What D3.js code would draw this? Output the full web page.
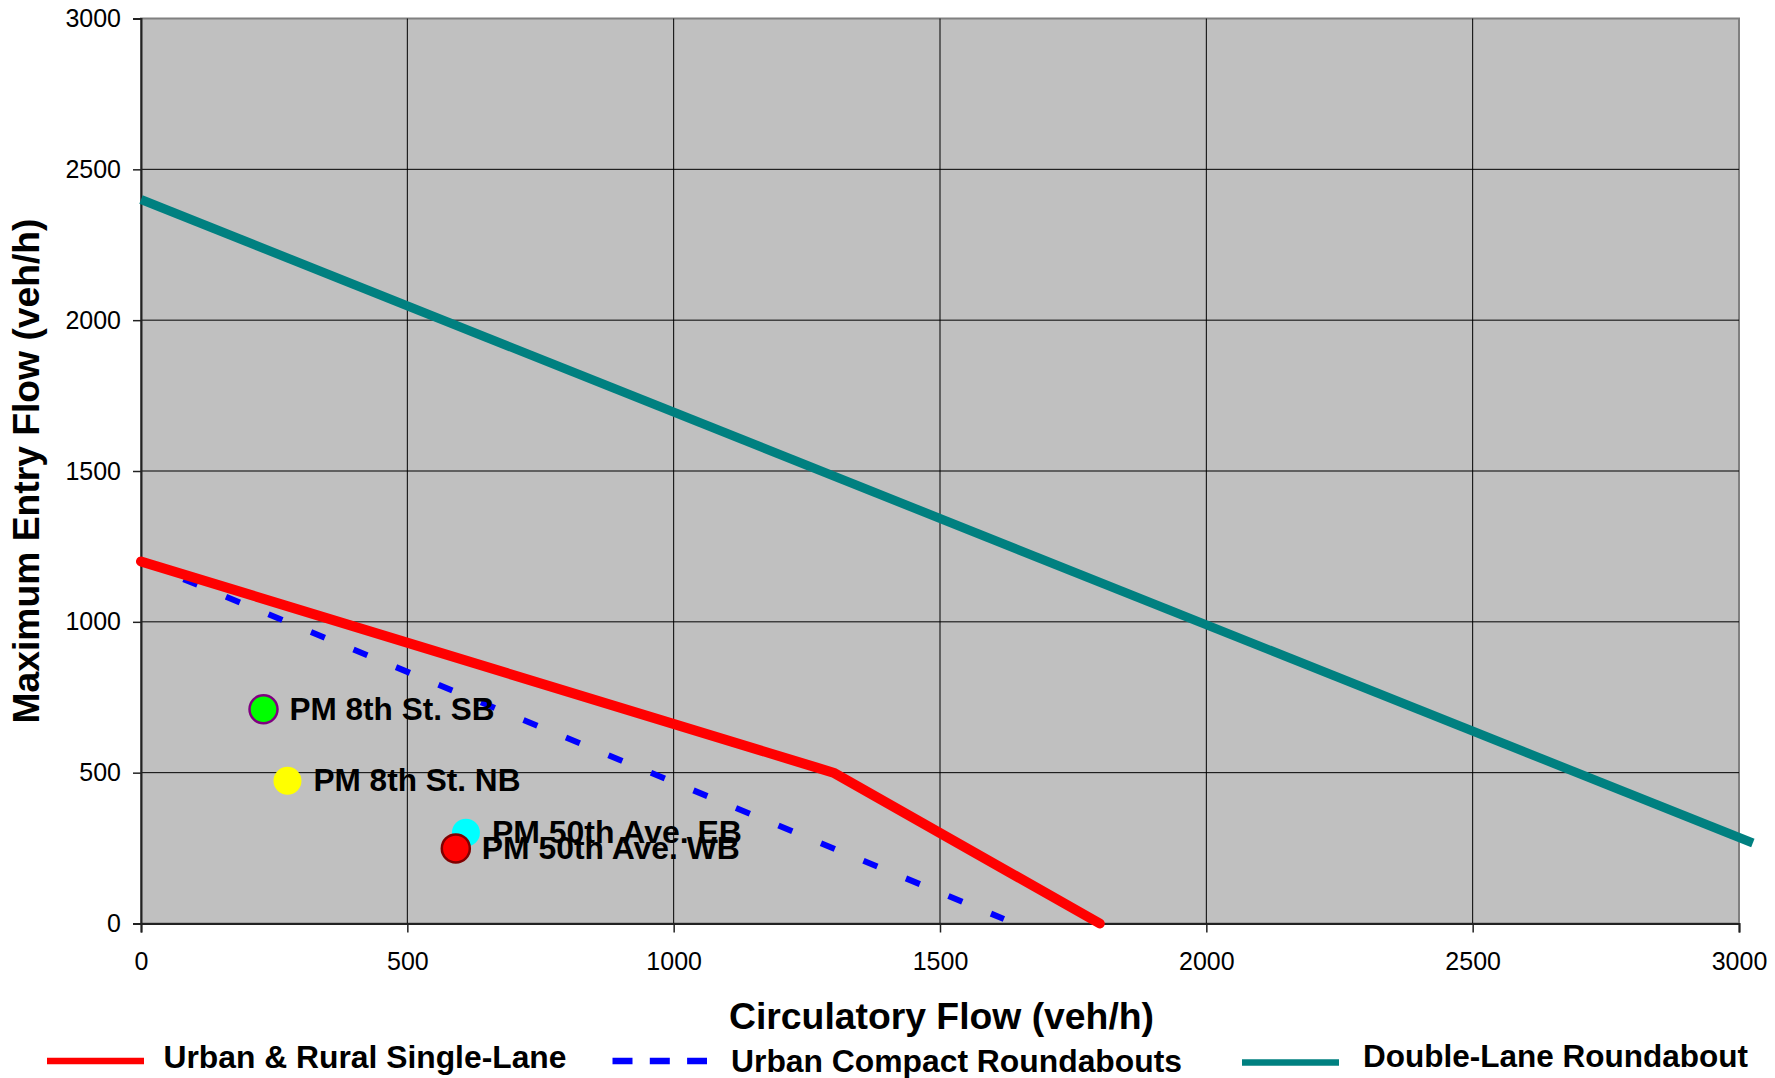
<!DOCTYPE html>
<html><head><meta charset="utf-8">
<script src="https://cdn.jsdelivr.net/npm/d3@7"></script>
<style>html,body{margin:0;padding:0;background:#fff;}svg{display:block;}</style>
</head><body>
<svg id="chart" width="1775" height="1078"></svg>
<script>
const xTicks = [0, 500, 1000, 1500, 2000, 2500, 3000];
const yTicks = [0, 500, 1000, 1500, 2000, 2500, 3000];
const singleLaneX = [0, 1300, 1800];
const singleLaneY = [1200, 500, 0];
const compactX = [0, 1620];
const compactY = [1200, 15];
const doubleX = [0, 3026];
const doubleY = [2400, 267];
const pointNames = ["PM 8th St. SB", "PM 8th St. NB", "PM 50th Ave. EB", "PM 50th Ave. WB"];
const pointX = [230, 275, 610, 591];
const pointY = [710, 473, 301, 249];
const pointFill = ["#00FF00", "#FFFF00", "#00FFFF", "#FF0000"];
const pointStroke = ["#800080", "none", "none", "#800000"];
const labelWidths = [205, 207, 250, 258];
const seriesNames = ["Urban & Rural Single-Lane", "Urban Compact Roundabouts", "Double-Lane Roundabout"];

const svg = d3.select("#chart");
const L = 141, R = 1739, T = 18.5, B = 923.5;
const x = d3.scaleLinear().domain([0, 3000]).range([L, R]);
const y = d3.scaleLinear().domain([0, 3000]).range([B, T]);
const font = "'Liberation Sans', Arial, sans-serif";

svg.append("rect").attr("x", L).attr("y", T).attr("width", R - L).attr("height", B - T)
  .attr("fill", "#C0C0C0").attr("stroke", "#808080").attr("stroke-width", 2);

// gridlines
svg.append("g").selectAll("line").data(yTicks.filter(d => d > 0 && d < 3000)).join("line")
  .attr("x1", L).attr("x2", R).attr("y1", d => y(d)).attr("y2", d => y(d))
  .attr("stroke", "#000").attr("stroke-width", 1);
svg.append("g").selectAll("line").data(xTicks.filter(d => d > 0 && d < 3000)).join("line")
  .attr("y1", T).attr("y2", B).attr("x1", d => x(d)).attr("x2", d => x(d))
  .attr("stroke", "#000").attr("stroke-width", 1);

// axes
const yAxis = svg.append("g").attr("transform", `translate(${L},0)`)
  .call(d3.axisLeft(y).tickValues(yTicks).tickSize(8).tickPadding(12).tickFormat(d3.format("d")));
const xAxis = svg.append("g").attr("transform", `translate(0,${B})`)
  .call(d3.axisBottom(x).tickValues(xTicks).tickSize(9).tickPadding(20).tickFormat(d3.format("d")));
[yAxis, xAxis].forEach(a => {
  a.select(".domain").attr("stroke", "#222").attr("stroke-width", 2);
  a.selectAll(".tick line").attr("stroke", "#222").attr("stroke-width", 1.5);
  a.selectAll("text").attr("font-family", font).attr("font-size", 25).attr("fill", "#000");
});

const line = d3.line().x(d => x(d[0])).y(d => y(d[1]));
const zip = (a, b) => a.map((v, i) => [v, b[i]]);

svg.append("path").datum(zip(compactX, compactY)).attr("d", line)
  .attr("fill", "none").attr("stroke", "#0000FF").attr("stroke-width", 6)
  .attr("stroke-dasharray", "15 31");
svg.append("path").datum(zip(singleLaneX, singleLaneY)).attr("d", line)
  .attr("fill", "none").attr("stroke", "#FF0000").attr("stroke-width", 10)
  .attr("stroke-linecap", "round").attr("stroke-linejoin", "round");
svg.append("path").datum(zip(doubleX, doubleY)).attr("d", line)
  .attr("fill", "none").attr("stroke", "#008080").attr("stroke-width", 9);

// points
pointNames.forEach((name, i) => {
  svg.append("circle").attr("cx", x(pointX[i])).attr("cy", y(pointY[i])).attr("r", 14)
    .attr("fill", pointFill[i]).attr("stroke", pointStroke[i]).attr("stroke-width", 2.5);
  svg.append("text").attr("x", x(pointX[i]) + 26).attr("y", y(pointY[i]) + 10.5)
    .attr("font-family", font).attr("font-weight", "bold").attr("font-size", 31.5)
    .attr("textLength", labelWidths[i]).attr("lengthAdjust", "spacingAndGlyphs")
    .text(name);
});

// axis titles
svg.append("text").attr("x", 729).attr("y", 1029)
  .attr("font-family", font).attr("font-weight", "bold").attr("font-size", 37)
  .attr("textLength", 425).attr("lengthAdjust", "spacingAndGlyphs")
  .text("Circulatory Flow (veh/h)");
svg.append("text").attr("transform", "translate(39,471) rotate(-90)")
  .attr("text-anchor", "middle")
  .attr("font-family", font).attr("font-weight", "bold").attr("font-size", 37)
  .attr("textLength", 505).attr("lengthAdjust", "spacingAndGlyphs")
  .text("Maximum Entry Flow (veh/h)");

// legend
const leg = svg.append("g");
leg.append("line").attr("x1", 47).attr("x2", 144).attr("y1", 1061).attr("y2", 1061)
  .attr("stroke", "#FF0000").attr("stroke-width", 6.5);
leg.append("text").attr("x", 163.5).attr("y", 1067.5).attr("font-family", font).attr("font-weight", "bold")
  .attr("font-size", 31.5).attr("textLength", 403).attr("lengthAdjust", "spacingAndGlyphs").text(seriesNames[0]);
leg.append("line").attr("x1", 612.5).attr("x2", 707).attr("y1", 1061).attr("y2", 1061)
  .attr("stroke", "#0000FF").attr("stroke-width", 6.5).attr("stroke-dasharray", "20 17.3");
leg.append("text").attr("x", 731).attr("y", 1071.5).attr("font-family", font).attr("font-weight", "bold")
  .attr("font-size", 31.5).attr("textLength", 451).attr("lengthAdjust", "spacingAndGlyphs").text(seriesNames[1]);
leg.append("line").attr("x1", 1242).attr("x2", 1339).attr("y1", 1062.5).attr("y2", 1062.5)
  .attr("stroke", "#008080").attr("stroke-width", 6.5);
leg.append("text").attr("x", 1363).attr("y", 1066.5).attr("font-family", font).attr("font-weight", "bold")
  .attr("font-size", 31.5).attr("textLength", 385).attr("lengthAdjust", "spacingAndGlyphs").text(seriesNames[2]);
</script>
</body></html>
